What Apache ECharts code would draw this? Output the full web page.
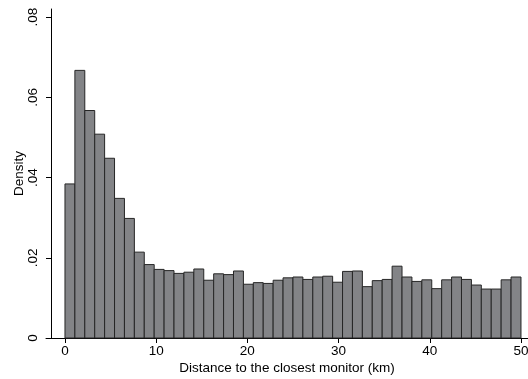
<!DOCTYPE html>
<html>
<head>
<meta charset="utf-8">
<script src="https://cdn.jsdelivr.net/npm/echarts@6/dist/echarts.min.js"></script>
<style>html,body{margin:0;padding:0;background:#fff}#c{width:528px;height:379px}</style>
</head>
<body>
<div id="c"></div>
<script>
// Histogram: 46 equal bins between 0 and 50 km
const binLow = 0;
const binHigh = 50;
const density = [
  0.0384, 0.0667, 0.0567, 0.0508, 0.0448, 0.0348, 0.0298, 0.0214, 0.0183, 0.0171,
  0.0168, 0.0161, 0.0164, 0.0172, 0.0144, 0.0160, 0.0158, 0.0167, 0.0134, 0.0138,
  0.0136, 0.0144, 0.0150, 0.0152, 0.0146, 0.0152, 0.0154, 0.0139, 0.0166, 0.0167,
  0.0128, 0.0143, 0.0146, 0.0179, 0.0152, 0.0141, 0.0145, 0.0123, 0.0145, 0.0152,
  0.0146, 0.0132, 0.0122, 0.0122, 0.0145, 0.0152
];
const xTicks = [0, 10, 20, 30, 40, 50];
const yTicks = [0, 0.02, 0.04, 0.06, 0.08];
const yTickLabels = ['0', '.02', '.04', '.06', '.08'];
const xTitle = 'Distance to the closest monitor (km)';
const yTitle = 'Density';

const nBins = density.length;
const bw = (binHigh - binLow) / nBins;
const data = density.map((d, i) => [binLow + i * bw, binLow + (i + 1) * bw, d]);

const chart = echarts.init(document.getElementById('c'), null, {renderer: 'canvas'});
const font = 'Liberation Sans, Arial, Helvetica, sans-serif';
const fs = 13.5;
chart.setOption({
  animation: false,
  backgroundColor: '#ffffff',
  grid: {left: 46, right: 0, top: 9, bottom: 41, containLabel: false, outerBoundsMode: 'none'},
  xAxis: {
    type: 'value',
    min: -2.08, max: 50.77,
    splitLine: {show: false},
    axisLine: {show: true, onZero: false, lineStyle: {color: '#000', width: 1}},
    axisTick: {show: true, length: 5, lineStyle: {color: '#000'},
      customValues: xTicks},
    axisLabel: {color: '#000', fontSize: fs, fontFamily: font, margin: 6,
      customValues: xTicks},
    name: xTitle, nameLocation: 'middle', nameGap: 23, nameMoveOverlap: false,
    nameTextStyle: {color: '#000', fontSize: fs, fontFamily: font}
  },
  yAxis: {
    type: 'value',
    min: 0, max: 0.082,
    offset: -5,
    splitLine: {show: false},
    axisLine: {show: true, onZero: false, lineStyle: {color: '#000', width: 1}},
    axisTick: {show: true, length: 5, lineStyle: {color: '#000'}, customValues: yTicks},
    axisLabel: {color: '#000', fontSize: fs, fontFamily: font, rotate: 90, margin: 11,
      customValues: yTicks,
      formatter: v => { const i = yTicks.findIndex(t => Math.abs(t - v) < 1e-9); return i >= 0 ? yTickLabels[i] : ''; }},
    name: yTitle, nameLocation: 'middle', nameGap: 25, nameRotate: 90, nameMoveOverlap: false,
    nameTextStyle: {color: '#000', fontSize: fs, fontFamily: font}
  },
  series: [{
    type: 'custom',
    data: data,
    encode: {x: [0, 1], y: 2},
    renderItem: function (params, api) {
      const p0 = api.coord([api.value(0), api.value(2)]);
      const p1 = api.coord([api.value(1), 0]);
      return {
        type: 'rect',
        shape: {x: p0[0], y: p0[1], width: p1[0] - p0[0], height: p1[1] - p0[1]},
        style: {fill: '#838487', stroke: '#262626', lineWidth: 1}
      };
    }
  }]
});
</script>
</body>
</html>
